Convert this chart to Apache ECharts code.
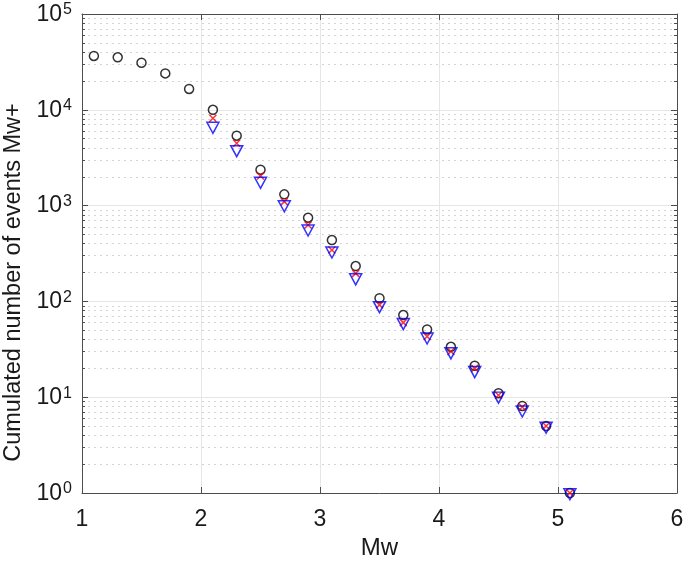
<!DOCTYPE html>
<html>
<head>
<meta charset="utf-8">
<script src="https://cdn.jsdelivr.net/npm/echarts@6/dist/echarts.min.js"></script>
<style>html,body{margin:0;padding:0;background:#fff;}#c{width:685px;height:564px;}</style>
</head>
<body>
<div id="c"></div>
<script>
// Data
const mwAll = [1.1,1.3,1.5,1.7,1.9,2.1,2.3,2.5,2.7,2.9,3.1,3.3,3.5,3.7,3.9,4.1,4.3,4.5,4.7,4.9,5.1];
const circles = [36500,35300,31000,24000,16500,10000,5370,2370,1310,748,437,234,108,72,51,33.6,21.3,11,8.1,5,1];
const mwFit = [2.1,2.3,2.5,2.7,2.9,3.1,3.3,3.5,3.7,3.9,4.1,4.3,4.5,4.7,4.9,5.1];
const crosses = [8150,4470,2040,1100,627,344,196,92,60,43,30,20,10.5,7.9,5,1];
const triangles = [6490,3700,1730,984,550,324,170,87,58,41,28.7,18.3,9.9,7.1,4.8,0.97];
const xTicks = [1,2,3,4,5,6];
const yDecades = [1,10,100,1000,10000,100000];
const minorFactors = [2,3,4,5,6,7,8,9];

const minorVals = [];
for (let i = 0; i < yDecades.length - 1; i++) {
  for (const f of minorFactors) minorVals.push(yDecades[i] * f);
}
const FONT = 'Liberation Sans';
const axisColor = '#4d4d4d';

function yLabel(v) {
  const e = Math.round(Math.log10(v));
  return '{a|10}{b|' + e + '}';
}

const baseY = {
  type: 'log', logBase: 10, min: 1, max: 100000, gridIndex: 0
};

const option = {
  animation: false,
  backgroundColor: '#fff',
  grid: { left: 82, top: 14, right: 8, bottom: 71, containLabel: false, outerBoundsMode: 'none' },
  xAxis: [
    {
      type: 'value', min: 1, max: 6, interval: 1, position: 'bottom',
      name: 'Mw', nameLocation: 'middle', nameGap: 42,
      nameTextStyle: { fontFamily: FONT, fontSize: 24, color: '#1a1a1a' },
      axisLine: { show: true, lineStyle: { color: axisColor, width: 1 } },
      axisTick: { show: true, inside: true, length: 6, lineStyle: { color: axisColor } },
      axisLabel: { fontFamily: FONT, fontSize: 23, color: '#1a1a1a', margin: 15,
        customValues: xTicks },
      splitLine: { show: true, lineStyle: { color: '#e6e6e6', width: 1 } }
    },
    {
      type: 'value', min: 1, max: 6, interval: 1, position: 'top',
      axisLine: { show: true, lineStyle: { color: axisColor, width: 1 } },
      axisTick: { show: true, inside: true, length: 6, lineStyle: { color: axisColor } },
      axisLabel: { show: false }, splitLine: { show: false }
    }
  ],
  yAxis: [
    Object.assign({}, baseY, {
      position: 'left',
      name: 'Cumulated number of events Mw+', nameLocation: 'middle', nameGap: 55,
      nameTextStyle: { fontFamily: FONT, fontSize: 23.5, color: '#1a1a1a', padding: [0, 58, 0, 0] },
      axisLine: { show: true, lineStyle: { color: axisColor, width: 1 } },
      axisTick: { show: true, inside: true, length: 6, lineStyle: { color: axisColor }, customValues: yDecades },
      axisLabel: {
        show: true, margin: 10, formatter: yLabel, customValues: yDecades,
        rich: {
          a: { fontFamily: FONT, fontSize: 23, color: '#1a1a1a', lineHeight: 24, verticalAlign: 'bottom' },
          b: { fontFamily: FONT, fontSize: 16, color: '#1a1a1a', lineHeight: 24, verticalAlign: 'top', padding: [0,0,9,1] }
        }
      },
      splitLine: { show: true, lineStyle: { color: '#e6e6e6', width: 1 } }
    }),
    Object.assign({}, baseY, {
      position: 'left',
      axisLine: { show: false },
      axisTick: { show: true, inside: true, length: 3, lineStyle: { color: axisColor }, customValues: minorVals },
      axisLabel: { show: false },
      splitLine: { show: true, lineStyle: { color: '#d4d4d4', width: 1, type: [2, 4] } }
    }),
    Object.assign({}, baseY, {
      position: 'right',
      axisLine: { show: true, lineStyle: { color: axisColor, width: 1 } },
      axisTick: { show: true, inside: true, length: 6, lineStyle: { color: axisColor }, customValues: yDecades },
      axisLabel: { show: false }, splitLine: { show: false }
    }),
    Object.assign({}, baseY, {
      position: 'right',
      axisLine: { show: false },
      axisTick: { show: true, inside: true, length: 3, lineStyle: { color: axisColor }, customValues: minorVals },
      axisLabel: { show: false }, splitLine: { show: false }
    })
  ],
  series: [
    {
      type: 'scatter', xAxisIndex: 0, yAxisIndex: 0, clip: false,
      data: mwAll.map((m, i) => [m, circles[i]]),
      symbol: 'circle', symbolSize: 9,
      itemStyle: { color: 'rgba(0,0,0,0)', borderColor: '#000', borderWidth: 1.5 },
      z: 3
    },
    {
      type: 'scatter', xAxisIndex: 0, yAxisIndex: 0, clip: false,
      data: mwFit.map((m, i) => [m, crosses[i]]),
      symbol: 'path://M0,0L10,10M10,0L0,10', symbolSize: 7,
      itemStyle: { color: 'none', borderColor: '#ff0000', borderWidth: 1.5 },
      z: 4
    },
    {
      type: 'scatter', xAxisIndex: 0, yAxisIndex: 0, clip: false,
      data: mwFit.map((m, i) => [m, triangles[i]]),
      symbol: 'triangle', symbolRotate: 180, symbolSize: [12, 11],
      itemStyle: { color: 'rgba(0,0,0,0)', borderColor: '#0000ff', borderWidth: 1.5 },
      z: 5
    }
  ]
};

const chart = echarts.init(document.getElementById('c'), null, { renderer: 'canvas' });
chart.setOption(option);
</script>
</body>
</html>
